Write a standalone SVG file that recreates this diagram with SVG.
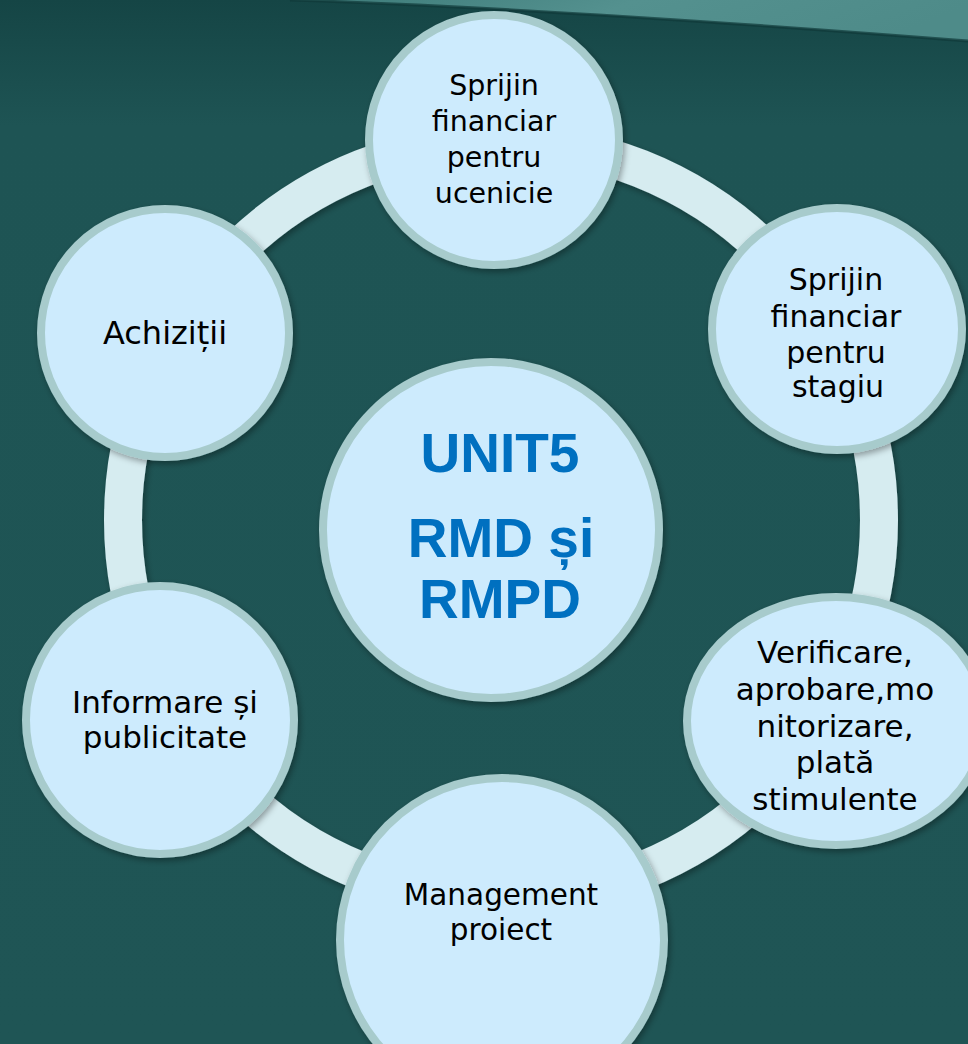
<svg xmlns="http://www.w3.org/2000/svg" width="968" height="1044" viewBox="0 0 968 1044">
<defs>
<linearGradient id="bg" x1="0" y1="0" x2="0" y2="1">
<stop offset="0" stop-color="#154545"/>
<stop offset="0.12" stop-color="#1e5454"/>
<stop offset="1" stop-color="#1f5555"/>
</linearGradient>
<linearGradient id="sw" x1="0" y1="0" x2="1" y2="0.15">
<stop offset="0" stop-color="#3c7a78"/>
<stop offset="0.5" stop-color="#54918f"/>
<stop offset="1" stop-color="#4e8b89"/>
</linearGradient>
<filter id="sh" x="-20%" y="-20%" width="140%" height="140%">
<feDropShadow dx="2" dy="3" stdDeviation="3" flood-color="#000" flood-opacity="0.35"/>
</filter>
<style>
.node{fill:#cdebfd;stroke:#a7cbcc;stroke-width:8;filter:url(#sh)}
.t{font-family:"DejaVu Sans","Liberation Sans",sans-serif;fill:#000;text-anchor:middle}
.c{font-family:"Liberation Sans",Arial,sans-serif;font-weight:bold;fill:#0070c0;text-anchor:middle;font-size:55px}
</style>
</defs>
<rect width="968" height="1044" fill="url(#bg)"/>
<path d="M290,0 C480,6 700,20 968,41 L968,0 Z" fill="url(#sw)"/>
<path d="M290,0 C480,6 700,20 968,41" fill="none" stroke="#0f3939" stroke-width="3" opacity="0.7"/>
<g id="connectors">
<circle cx="501" cy="520" r="378" fill="none" stroke="#d6ecf0" stroke-width="38" filter="url(#sh)"/>
</g>
<g id="node-top">
<circle class="node" cx="494" cy="140" r="125"/>
<text class="t" font-size="28.5"><tspan x="494" y="95">Sprijin</tspan><tspan x="494" y="131">financiar</tspan><tspan x="494" y="167">pentru</tspan><tspan x="494" y="203">ucenicie</tspan></text>
</g>
<g id="node-stagiu">
<ellipse class="node" cx="837" cy="329" rx="125" ry="121"/>
<text class="t" font-size="30"><tspan x="836" y="290">Sprijin</tspan><tspan x="836" y="327">financiar</tspan><tspan x="836" y="363">pentru</tspan><tspan x="838" y="397">stagiu</tspan></text>
</g>
<g id="node-verificare">
<ellipse class="node" cx="836" cy="721" rx="149" ry="124"/>
<text class="t" font-size="31"><tspan x="835" y="663">Verificare,</tspan><tspan x="835" y="700">aprobare,mo</tspan><tspan x="835" y="737">nitorizare,</tspan><tspan x="835" y="773">plată</tspan><tspan x="835" y="810">stimulente</tspan></text>
</g>
<g id="node-management">
<circle class="node" cx="502" cy="940" r="162"/>
<text class="t" font-size="29.5"><tspan x="501" y="905">Management</tspan><tspan x="501" y="940">proiect</tspan></text>
</g>
<g id="node-informare">
<circle class="node" cx="160" cy="720" r="134"/>
<text class="t" font-size="31"><tspan x="165" y="713">Informare și</tspan><tspan x="165" y="748">publicitate</tspan></text>
</g>
<g id="node-achizitii">
<circle class="node" cx="165" cy="333" r="124"/>
<text class="t" font-size="32" x="165" y="344">Achiziții</text>
</g>
<g id="node-center">
<circle class="node" cx="491" cy="530" r="168"/>
<text class="c"><tspan x="500" y="472">UNIT5</tspan><tspan x="501" y="557">RMD și</tspan><tspan x="500" y="618">RMPD</tspan></text>
</g>
</svg>
